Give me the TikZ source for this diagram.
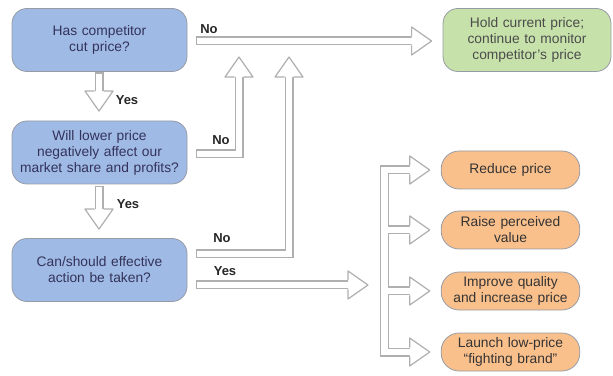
\documentclass[tikz,border=0pt]{standalone}
\usepackage{fontspec}
\setmainfont{Liberation Sans}
\usetikzlibrary{positioning, calc}
\definecolor{qblue}{RGB}{160,186,230}
\definecolor{hgreen}{RGB}{198,226,170}
\definecolor{aorange}{RGB}{250,192,140}
\definecolor{rim}{RGB}{150,155,165}
\definecolor{pilgray}{RGB}{175,175,175}
\tikzset{
    % question boxes
    frage/.style={
           rectangle,
           rounded corners=15pt,
           draw=rim, thick,
           fill=qblue,
           text=black!75!blue!60!gray,
           minimum width=175pt,
           minimum height=63pt,
           text width=165pt,
           align=center,
           font=\fontsize{13.8pt}{16pt}\selectfont},
    % outcome boxes
    ende/.style={
           frage,
           fill=hgreen,
           text=black!70,
           minimum width=168pt,
           text width=155pt},
    aktion/.style={
           frage,
           rounded corners=18pt,
           fill=aorange,
           text=black!80,
           minimum width=135pt,
           minimum height=38pt,
           text width=132pt},
    % hollow block arrows
    pil/.style={
           draw=pilgray,
           line width=1.2pt,
           double=white,
           double distance=6.6pt,
           line cap=rect},
    kopf/.pic={
           \filldraw[fill=white, draw=pilgray, line width=1.2pt, line join=round]
              (0,4.5pt) -- (0,14pt) -- (20pt,0) -- (0,-14pt) -- (0,-4.5pt);},
    etikett/.style={font=\fontsize{13pt}{14pt}\selectfont\bfseries, text=black!85}
}

\begin{document}
\begin{tikzpicture}[x=1pt, y=1pt]
	\useasboundingbox (0,0) rectangle (613,375);
	%
	% questions
	%
	\node[frage] (q1) at (99.5,335) {Has competitor\\cut price?};
	\node[frage] (q2) at (99.5,222.5) {Will lower price\\negatively affect our\\market share and profits?};
	\node[frage] (q3) at (99.5,105) {Can/should effective\\action be taken?};
	%
	% outcomes
	%
	\node[ende] (hold) at (527,335) {Hold current price;\\continue to monitor\\competitor's price};
	\node[aktion] (red) at (510.5,205) {Reduce price};
	\node[aktion] (raise) at (510.5,145) {Raise perceived\\value};
	\node[aktion] (qual) at (510.5,84) {Improve quality\\and increase price};
	\node[aktion] (brand) at (510.5,23) {Launch low-price\\``fighting brand''};
	%
	% Yes arrows down
	%
	\draw[pil] ([yshift=-5pt]q1.south -| 99,0) -- ($(q2.north -| 99,0)+(0,29.5)$) coordinate (y1);
	\pic[rotate=-90] at (y1) {kopf};
	\node[etikett] at (127,275) {Yes};
	\draw[pil] ([yshift=-6pt]q2.south -| 99,0) -- ($(q3.north -| 99,0)+(0,29)$) coordinate (y2);
	\pic[rotate=-90] at (y2) {kopf};
	\node[etikett] at (128,171) {Yes};
	%
	% No arrows
	%
	\draw[pil] ([xshift=13pt]q1.east |- 0,334) -- ([xshift=-31pt]hold.west |- 0,334) coordinate (n1);
	\pic at (n1) {kopf};
	\node[etikett] at (209,346) {No};
	\coordinate (up1) at (239,298);
	\coordinate (up2) at (289,298);
	\draw[pil] ([xshift=13pt]q2.east |- 0,221) -| (up1);
	\pic[rotate=90] at (up1) {kopf};
	\node[etikett] at (221,235) {No};
	\draw[pil] ([xshift=13pt]q3.east |- 0,121) -| (up2);
	\pic[rotate=90] at (up2) {kopf};
	\node[etikett] at (222,137) {No};
	%
	% Yes arrow to the options
	%
	\draw[pil] ([xshift=13pt]q3.east |- 0,90) -- (348,90) coordinate (y3);
	\pic at (y3) {kopf};
	\node[etikett] at (225,104) {Yes};
	\draw[pil] ([xshift=-31pt]red.west) -- ([xshift=-56pt]red.west) -- ([xshift=-56pt]brand.west) -- ([xshift=-31pt]brand.west)
	           ([xshift=-56pt]raise.west) -- ([xshift=-31pt]raise.west)
	           ([xshift=-56pt]qual.west) -- ([xshift=-31pt]qual.west);
	\foreach \o in {red, raise, qual, brand}
	    \pic at ([xshift=-31pt]\o.west) {kopf};
\end{tikzpicture}
\end{document}
